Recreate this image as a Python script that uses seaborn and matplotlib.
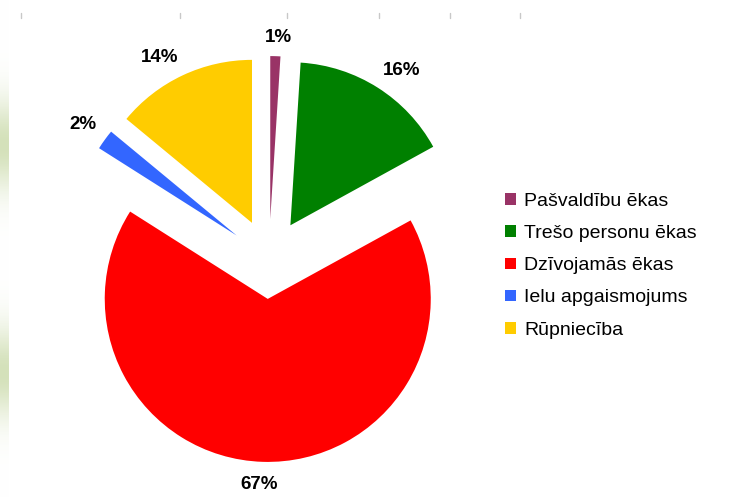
import numpy as np
import matplotlib
matplotlib.use("Agg")
import matplotlib.pyplot as plt
import seaborn as sns

categories = ["Pašvaldību ēkas", "Trešo personu ēkas", "Dzīvojamās ēkas",
              "Ielu apgaismojums", "Rūpniecība"]
values = [1, 16, 67, 2, 14]
colors = ["#993366", "#008000", "#FF0000", "#3366FF", "#FFCC00"]

sns.set_theme(style="white")
plt.rcParams['font.family'] = ['Liberation Sans', 'DejaVu Sans']

W, H = 745, 497
fig = plt.figure(figsize=(W / 100, H / 100), dpi=100)
fig.patch.set_facecolor("white")

# decorative left strip (slide background)
strip = fig.add_axes([0, 0, 9 / W, 1])
ys = np.linspace(0, 1, 200)
g = np.exp(-((ys - 0.71) / 0.09) ** 2) + np.exp(-((ys - 0.25) / 0.09) ** 2)
g = np.clip(g, 0, 1)
base = np.array([1.0, 1.0, 1.0])
peak = np.array([212, 225, 186]) / 255
img = base[None, :] * (1 - g[:, None]) + peak[None, :] * g[:, None]
strip.imshow(img[:, None, :], aspect="auto", origin="lower", extent=[0, 1, 0, 1])
strip.set_axis_off()

# faint top tick marks
for xp in [21, 180, 287, 379, 450, 520]:
    fig.add_artist(plt.Line2D([xp / W, xp / W], [1 - 13 / H, 1 - 18 / H],
                              color="#c8c8c8", lw=1))

ax = fig.add_axes([0, 0, 1, 1])
R = 163.0
cx, cy = 269.0, H - 259.0

wedges, texts, autotexts = ax.pie(
    values, colors=colors, startangle=90, counterclock=False,
    explode=[0.245] * len(values), radius=1.0,
    autopct="%d%%", pctdistance=1.17,
    wedgeprops=dict(linewidth=0),
    textprops=dict(fontsize=13.5, fontweight="bold", color="black"),
    frame=True,
)
ax.set_xlim(-cx / R, (W - cx) / R)
ax.set_ylim(-cy / R, (H - cy) / R)
ax.set_aspect("auto")
ax.set_axis_off()

# place labels "outside end" like the original: box edge at fixed distance
fig.canvas.draw()
renderer = fig.canvas.get_renderer()
D = 173.0 / R
for w, t in zip(wedges, autotexts):
    th = np.deg2rad(0.5 * (w.theta1 + w.theta2))
    ux, uy = np.cos(th), np.sin(th)
    bb = t.get_window_extent(renderer)
    bw, bh = bb.width / R, 22.0 / R
    x0, y0 = w.center
    px = x0 + D * ux + 0.5 * bw * np.clip(ux * 6, -1, 1)
    py = y0 + D * uy + 0.5 * bh * np.clip(uy * 6, -1, 1)
    t.set_position((px, py))
    t.set_ha("center")
    t.set_va("center_baseline")

leg = fig.legend(wedges, categories, loc="upper left",
                 bbox_to_anchor=(505 / W, 1 - 193 / H),
                 frameon=False, fontsize=14,
                 handlelength=0.55, handleheight=0.55,
                 handletextpad=0.45, labelspacing=0.78,
                 borderaxespad=0, borderpad=0)
for t in leg.get_texts():
    t.set_color("black")

fig.savefig("out.png", dpi=100, facecolor="white")
